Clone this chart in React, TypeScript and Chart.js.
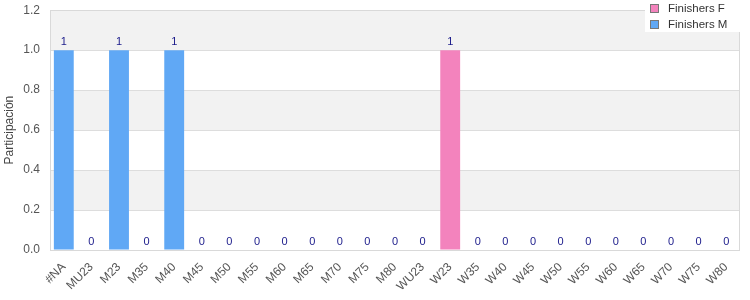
import React, { useEffect, useRef } from "react";
import { Chart, registerables } from "chart.js";

Chart.register(...registerables);

const categories = ["#NA","MU23","M23","M35","M40","M45","M50","M55","M60","M65","M70","M75","M80","WU23","W23","W35","W40","W45","W50","W55","W60","W65","W70","W75","W80"];
const finishersF: (number | null)[] = [null,null,null,null,null,null,null,null,null,null,null,null,null,0,1,0,0,0,0,0,0,0,0,0,0];
const finishersM: (number | null)[] = [1,0,1,0,1,0,0,0,0,0,0,0,0,null,null,null,null,null,null,null,null,null,null,null,null];
const yTicks = [0, 0.2, 0.4, 0.6, 0.8, 1.0, 1.2];

const colorF = "#f383bd";
const colorM = "#60a8f5";
const FONT = "'Liberation Sans', Arial, sans-serif";

const bgPlugin = {
  id: "bgBands",
  beforeDraw(chart: any) {
    const { ctx, chartArea, scales } = chart;
    const y = scales.y;
    ctx.save();
    for (let i = 0; i < yTicks.length - 1; i++) {
      const top = y.getPixelForValue(yTicks[i + 1]);
      const bot = y.getPixelForValue(yTicks[i]);
      ctx.fillStyle = i % 2 === 1 ? "#f2f2f2" : "#ffffff";
      ctx.fillRect(chartArea.left, top, chartArea.right - chartArea.left, bot - top);
    }
    ctx.restore();
  },
  afterDraw(chart: any) {
    const { ctx, chartArea } = chart;
    ctx.save();
    ctx.strokeStyle = "#d9d9d9";
    ctx.lineWidth = 1;
    ctx.strokeRect(Math.round(chartArea.left) + 0.5, Math.round(chartArea.top) + 0.5, Math.round(chartArea.right - chartArea.left) - 1, Math.round(chartArea.bottom - chartArea.top));
    // value labels
    ctx.font = `11px ${FONT}`;
    ctx.fillStyle = "#1a1a8a";
    ctx.textAlign = "center";
    ctx.textBaseline = "bottom";
    chart.data.datasets.forEach((ds: any, di: number) => {
      const meta = chart.getDatasetMeta(di);
      meta.data.forEach((el: any, i: number) => {
        const v = ds.data[i];
        if (v === null || v === undefined) return;
        ctx.fillText(String(v), el.x, el.y - 3);
      });
    });
    // legend
    ctx.fillStyle = "#ffffff";
    ctx.fillRect(645, 0, 105, 32);
    const items = [
      { label: "Finishers F", color: colorF },
      { label: "Finishers M", color: colorM },
    ];
    items.forEach((it, k) => {
      const cy = 8.5 + k * 16;
      ctx.fillStyle = it.color;
      ctx.fillRect(650.5, cy - 4, 8, 8);
      ctx.strokeStyle = "#777777";
      ctx.lineWidth = 1;
      ctx.strokeRect(650.5, cy - 4, 8, 8);
      ctx.fillStyle = "#333333";
      ctx.font = `11.5px ${FONT}`;
      ctx.textAlign = "left";
      ctx.textBaseline = "middle";
      ctx.fillText(it.label, 668, cy);
    });
    ctx.restore();
  },
};

export default function App() {
  const ref = useRef<HTMLCanvasElement>(null);
  useEffect(() => {
    if (!ref.current) return;
    const chart = new Chart(ref.current, {
      type: "bar",
      data: {
        labels: categories,
        datasets: [
          { label: "Finishers F", data: finishersF, backgroundColor: colorF, borderWidth: 0, inflateAmount: 0, categoryPercentage: 0.8, barPercentage: 0.9 },
          { label: "Finishers M", data: finishersM, backgroundColor: colorM, borderWidth: 0, inflateAmount: 0, categoryPercentage: 0.8, barPercentage: 0.9 },
        ],
      },
      options: {
        animation: false,
        responsive: false,
        layout: { padding: { top: 0, right: 10, left: 0, bottom: 0 } },
        plugins: { legend: { display: false }, tooltip: { enabled: false } },
        scales: {
          x: {
            stacked: true,
            grid: { display: false },
            border: { display: false },
            ticks: { font: { family: FONT, size: 12 }, color: "#555", maxRotation: 45, minRotation: 45, autoSkip: false, padding: 2 },
            afterFit: (s: any) => { s.height = 50; },
          },
          y: {
            stacked: true,
            min: 0,
            max: 1.2,
            afterBuildTicks: (s: any) => { s.ticks = yTicks.map((v) => ({ value: v })); },
            ticks: { font: { family: FONT, size: 12 }, color: "#555", callback: (v: any) => Number(v).toFixed(1), padding: 3 },
            grid: { color: "#dddddd", drawTicks: true, tickLength: 7, tickColor: "rgba(0,0,0,0)" },
            border: { display: false },
            title: { display: true, text: "Participación", font: { family: FONT, size: 12 }, color: "#444", padding: 2 },
            afterFit: (s: any) => { s.width = 50; },
          },
        },
      },
      plugins: [bgPlugin],
    });
    return () => chart.destroy();
  }, []);
  return (
    <div style={{ position: "fixed", left: 0, top: 0, width: 750, height: 300, background: "#fff" }}>
      <canvas ref={ref} width={750} height={300} />
    </div>
  );
}
